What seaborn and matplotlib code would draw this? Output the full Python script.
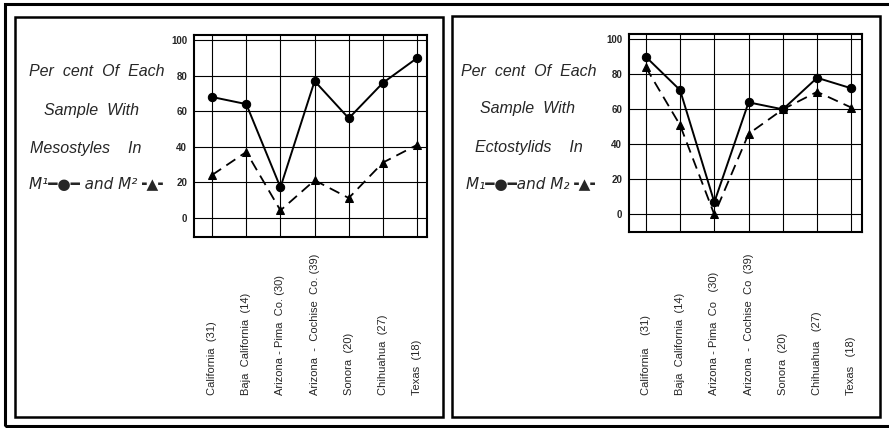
"""Mesostyle / ectostylid frequency charts, two panels."""

import matplotlib

matplotlib.use("Agg")
import matplotlib.pyplot as plt
import matplotlib.transforms as mtransforms
import numpy as np
import seaborn as sns
from matplotlib.patches import Rectangle

localities = [
    "California  (31)",
    "Baja  California  (14)",
    "Arizona - Pima  Co. (30)",
    "Arizona  -  Cochise  Co. (39)",
    "Sonora  (20)",
    "Chihuahua  (27)",
    "Texas  (18)",
]
localities_right = [
    "California    (31)",
    "Baja  California  (14)",
    "Arizona - Pima  Co   (30)",
    "Arizona  -  Cochise  Co  (39)",
    "Sonora  (20)",
    "Chihuahua   (27)",
    "Texas   (18)",
]
mesostyle_m1 = [68, 64, 17, 77, 56, 76, 90]
mesostyle_m2 = [24, 37, 4, 21, 11, 31, 41]
ectostylid_m1 = [90, 71, 7, 64, 60, 78, 72]
ectostylid_m2 = [84, 51, 0, 46, 60, 70, 61]
y_ticks = [0, 20, 40, 60, 80, 100]

left_caption = ["Per  cent  Of  Each", "Sample  With", "Mesostyles    In"]
right_caption = ["Per  cent  Of  Each", "Sample  With", "Ectostylids    In"]
left_key = "M¹━●━ and M²╺▲╸"
right_key = "M₁━●━and M₂╺▲╸"

W, H = 889, 428
FONT = ["Liberation Sans", "DejaVu Sans"]

sns.set_theme(style="white")
plt.rcParams["font.family"] = FONT

fig = plt.figure(figsize=(W / 100, H / 100), dpi=100)


def px_rect(x0, y0, x1, y1):
    return [x0 / W, 1 - y1 / H, (x1 - x0) / W, (y1 - y0) / H]


def frame(x0, y0, x1, y1, lw):
    l, b, w, h = px_rect(x0, y0, x1, y1)
    fig.add_artist(Rectangle((l, b), w, h, transform=fig.transFigure,
                             fill=False, edgecolor="black", lw=lw))


frame(5, 4, 892, 426, 2.2)
frame(15, 17, 443, 417, 1.8)
frame(452, 16, 880, 417, 1.8)


def panel(rect, m1, m2, labels, ylim, xlim, caption, key, cap_x, cap_y):
    ax = fig.add_axes(px_rect(*rect))
    x = np.arange(len(labels))
    sns.lineplot(x=x, y=m1, ax=ax, color="black", lw=1.4, marker="o",
                 markersize=6, markeredgecolor="black")
    sns.lineplot(x=x, y=m2, ax=ax, color="black", lw=1.3, marker="^",
                 markersize=6, markeredgecolor="black", dashes=False,
                 linestyle=(0, (6, 3.5)))
    ax.set_xlim(*xlim)
    ax.set_ylim(*ylim)
    ax.set_xticks(x)
    ax.set_xticklabels([])
    ax.set_yticks(y_ticks)
    ax.set_yticklabels([str(t) for t in y_ticks], fontsize=7, fontweight="bold")
    ax.tick_params(length=0, pad=5)
    ax.grid(True, color="black", lw=0.8)
    for s in ax.spines.values():
        s.set_color("black")
        s.set_linewidth(1.5)
    trans = mtransforms.blended_transform_factory(ax.transData, fig.transFigure)
    for i, lab in enumerate(labels):
        ax.text(i, 1 - 395 / H, lab, transform=trans, rotation=90,
                ha="center", va="bottom", fontsize=8)
    for line, cx, cy in zip(caption, cap_x, cap_y):
        fig.text(cx / W, 1 - cy / H, line, ha="center", va="center",
                 fontsize=11.5, style="italic", family=FONT)
    fig.text(cap_x[3] / W, 1 - cap_y[3] / H, key, ha="center", va="center",
             fontsize=11, style="italic", family=["DejaVu Sans"])
    return ax


panel((194, 35, 427, 237), mesostyle_m1, mesostyle_m2, localities,
      (-11, 103), (-0.53, 6.29), left_caption, left_key,
      [97, 92, 86, 98], [72, 111, 149, 185])
panel((629, 34, 862, 232), ectostylid_m1, ectostylid_m2, localities_right,
      (-10, 103), (-0.49, 6.31), right_caption, right_key,
      [529, 528, 529, 533], [71, 109, 148, 184])

fig.savefig("out.png", dpi=100, facecolor="white")
